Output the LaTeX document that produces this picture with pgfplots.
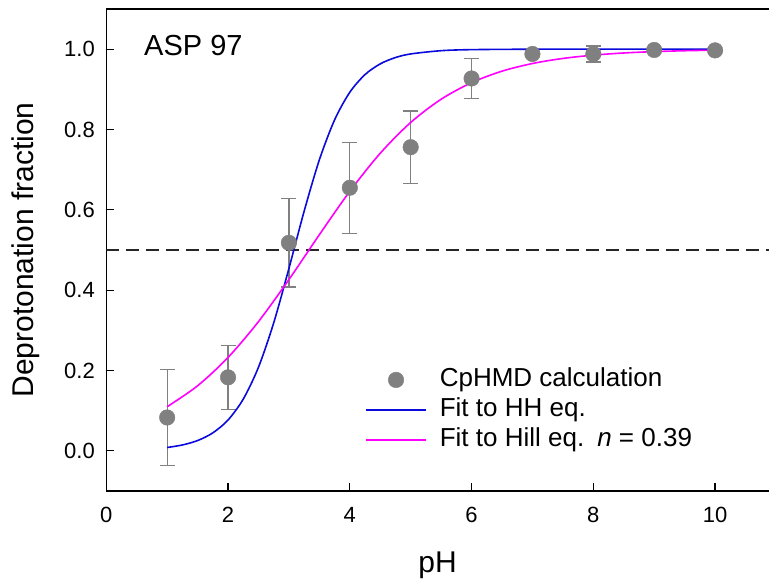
\documentclass[border=0pt]{standalone}
\usepackage{fontspec}
\setmainfont{Liberation Sans}
\usepackage{pgfplots}
\pgfplotsset{compat=1.18}
\definecolor{hhblue}{RGB}{10,10,220}
\definecolor{hillmag}{RGB}{255,0,255}
\definecolor{ptgray}{RGB}{128,128,128}
\begin{document}
\begin{tikzpicture}
\begin{axis}[
 name=ax,
 scale only axis, width=662.7pt, height=482pt,
 xmin=0, xmax=10.886, ymin=-0.1, ymax=1.1,
 separate axis lines,
 axis x line=box, axis y line=left,
 every outer x axis line/.append style={-},
 every outer y axis line/.append style={-},
 axis line style={black, line width=1.3pt, -},
 xtick={0,2,4,6,8,10}, ytick={0,0.2,0.4,0.6,0.8,1.0},
 xtick pos=left, ytick pos=left,
 tick align=inside, major tick length=8pt,
 tick style={black, line width=1.3pt},
 /pgf/number format/assume math mode=true,
 ticklabel style={font=\fontsize{22}{26}\selectfont},
 y tick label style={/pgf/number format/fixed, /pgf/number format/fixed zerofill, /pgf/number format/precision=1, xshift=-8pt},
 x tick label style={yshift=-13pt},
 xlabel={pH}, ylabel={Deprotonation fraction},
 label style={font=\fontsize{30}{36}\selectfont},
 xlabel style={at={(axis description cs:0.5,-0.1535)}, anchor=center},
 ylabel style={at={(axis description cs:-0.122,0.5)}, anchor=center},
 legend cell align=left,
 legend style={draw=none, fill=none, at={(axis cs:4.25,0.2056)}, anchor=north west,
   font=\fontsize{26}{30}\selectfont, inner sep=0pt, row sep=7pt,
   nodes={inner ysep=0pt, inner xsep=13pt, text height=18pt, text depth=5pt}},
 legend image code/.code={\draw[mark repeat=2,mark phase=2,#1] plot coordinates {(0pt,0pt) (30pt,0pt) (60pt,0pt)};},
]
\addplot[black!85, line width=1.2pt, dash pattern=on 13pt off 7pt, forget plot] coordinates {(0,0.5) (10.886,0.5)};
\addplot[only marks, mark=*, mark size=7.8pt, color=ptgray, mark options={draw=ptgray, fill=ptgray},
 error bars/.cd, y dir=both, y explicit,
 error bar style={line width=1.2pt, ptgray},
 error mark options={rotate=90, mark size=7.5pt, line width=1.2pt, ptgray}]
 table[x=x, y=y, y error=e] {
 x y e
 1 0.083 0.120
 2 0.183 0.080
 3 0.518 0.110
 4 0.655 0.113
 5 0.756 0.090
 6 0.927 0.050
 7 0.988 0.005
 8 0.988 0.020
 9 0.998 0.003
 10 0.997 0.003
 };
\addlegendentry{CpHMD calculation}
\addplot[hhblue, line width=1.6pt, smooth] coordinates {
 (1,0.0083) (1.25,0.0146) (1.5,0.0256) (1.75,0.0447) (2,0.0768) (2.25,0.1288)
 (2.5,0.2083) (2.75,0.3187) (3,0.4541) (3.25,0.5966) (3.5,0.7245) (3.75,0.8239)
 (4,0.8927) (4.25,0.9367) (4.5,0.9634) (4.75,0.9791) (5,0.9881) (5.5,0.9962)
 (6,0.9988) (7,0.9999) (8,1.0) (9,1.0) (10,1.0)};
\addlegendentry{Fit to HH eq.}
\addplot[hillmag, line width=1.6pt, smooth] coordinates {
 (1,0.1098) (1.5,0.1620) (2,0.2325) (2.5,0.3218) (3,0.4264) (3.5,0.5381)
 (4,0.6461) (4.5,0.7409) (5,0.8175) (5.5,0.8753) (6,0.9166) (6.5,0.9452)
 (7,0.9643) (7.5,0.9769) (8,0.9851) (8.5,0.9905) (9,0.9939) (9.5,0.9961) (10,0.9975)};
\addlegendentry{Fit to Hill eq.\hspace{0.5em}\textit{n} = 0.39}
\node[anchor=base west, font=\fontsize{29}{34}\selectfont, inner sep=0pt] at (axis cs:0.62,0.985) {ASP 97};
\end{axis}
\pgfresetboundingbox
\path[use as bounding box] (ax.south west) ++(-106.3pt,-92pt) rectangle ++(769pt,583pt);
\end{tikzpicture}
\end{document}
